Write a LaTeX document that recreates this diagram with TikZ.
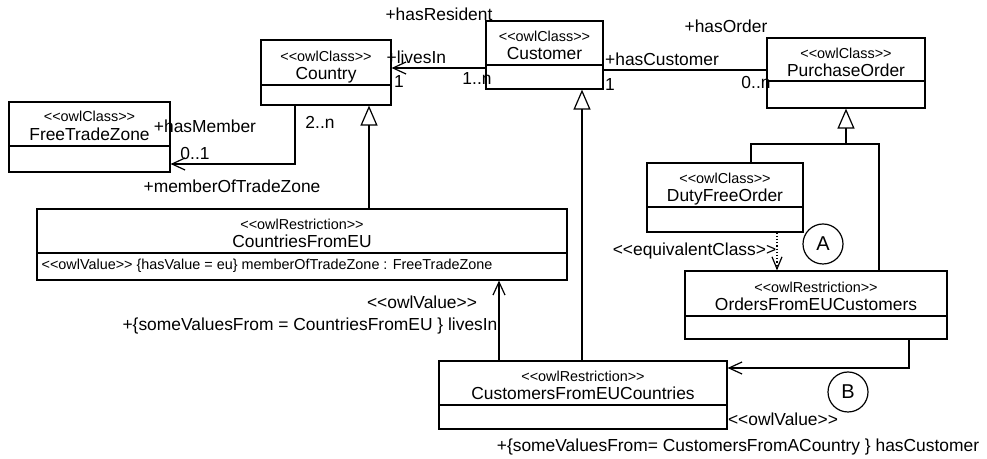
\documentclass[tikz,border=0pt]{standalone}
\usepackage{fontspec}
\setmainfont{Liberation Sans}
\usetikzlibrary{arrows.meta}

\newcommand\uml[1]{<\kern0pt<#1>\kern0pt>}

\begin{document}
\begin{tikzpicture}[x=0.5pt,y=-0.5pt,line width=0.6pt,
    stereo/.style={font=\fontsize{7.2}{8}\selectfont,inner sep=0pt,anchor=base},
    cname/.style={font=\fontsize{8.7}{10}\selectfont,inner sep=0pt,anchor=base},
    lbl/.style={font=\fontsize{8.7}{10}\selectfont,inner sep=0pt},
    assoc/.style={-{Straight Barb[length=6.5pt,width=6pt]}},
    gen/.style={-{Triangle[open,length=10pt,width=8.5pt]}},
    equiv/.style={densely dotted,-{Straight Barb[length=6pt,width=5pt]}}]

      \useasboundingbox (0,0) rectangle (987,459);

      \begin{scope}[every node/.style={draw,inner sep=0pt}]
        \node[minimum width=65pt,minimum height=32.5pt]  (country)  at (326,72.5)  {};
        \node[minimum width=80.5pt,minimum height=35pt]  (ftz)      at (89.5,137)  {};
        \node[minimum width=58.5pt,minimum height=34pt]  (customer) at (544.5,55)  {};
        \node[minimum width=79pt,minimum height=35pt]    (po)       at (846,73)    {};
        \node[minimum width=78pt,minimum height=34.5pt]  (dfo)      at (725,197.5) {};
        \node[minimum width=131pt,minimum height=34pt]   (ofeu)     at (816,305)   {};
        \node[minimum width=144pt,minimum height=34pt]   (cfeuc)    at (583,395)   {};
        \node[minimum width=265pt,minimum height=35.5pt] (ceu)      at (302,244.5) {};
      \end{scope}

      % compartments
      \draw (country.west |- 0,85)   -- (country.east |- 0,85);
      \draw (ftz.west |- 0,146)      -- (ftz.east |- 0,146);
      \draw (customer.west |- 0,65)  -- (customer.east |- 0,65);
      \draw (po.west |- 0,81)        -- (po.east |- 0,81);
      \draw (dfo.west |- 0,207)      -- (dfo.east |- 0,207);
      \draw (ofeu.west |- 0,316)     -- (ofeu.east |- 0,316);
      \draw (cfeuc.west |- 0,405)    -- (cfeuc.east |- 0,405);
      \draw (ceu.west |- 0,253)      -- (ceu.east |- 0,253);

      \node[stereo] (country-s)  at (326,62)   {\uml{owlClass}};
      \node[cname]  (country-n)  at (326,80)   {Country};
      \node[stereo] (ftz-s)      at (89.5,122) {\uml{owlClass}};
      \node[cname]  (ftz-n)      at (89.5,141) {FreeTradeZone};
      \node[stereo] (customer-s) at (544.5,42) {\uml{owlClass}};
      \node[cname]  (customer-n) at (544.5,60) {Customer};
      \node[stereo] (po-s)       at (846,59)   {\uml{owlClass}};
      \node[cname]  (po-n)       at (846,77)   {PurchaseOrder};
      \node[stereo] (dfo-s)      at (725,184)  {\uml{owlClass}};
      \node[cname]  (dfo-n)      at (725,202)  {DutyFreeOrder};
      \node[stereo] (ofeu-s)     at (816,293)  {\uml{owlRestriction}};
      \node[cname]  (ofeu-n)     at (816,311)  {OrdersFromEUCustomers};
      \node[stereo] (cfeuc-s)    at (583,382)  {\uml{owlRestriction}};
      \node[cname]  (cfeuc-n)    at (583,400)  {CustomersFromEUCountries};
      \node[stereo] (ceu-s)      at (302,230)  {\uml{owlRestriction}};
      \node[cname]  (ceu-n)      at (302,248)  {CountriesFromEU};
      \node[stereo,anchor=base west] (ceu-a) at (41,270)
        {\uml{owlValue} \{hasValue = eu\} memberOfTradeZone : FreeTradeZone};

      % connectors
      \coordinate (po-join) at (846,144);
      \draw[assoc] (customer.west |- 0,68) -- (country.east |- 0,68);
      \draw (customer.east |- 0,70) -- (po.west |- 0,70);
      \draw[assoc] (country.south -| 295,0) |- (ftz.east |- 0,164);
      \draw[gen] (ceu.north -| 369,0) -- (country.south -| 369,0);
      \draw[gen] (cfeuc.north -| 582,0) -- (customer.south -| 582,0);
      \draw[gen] (po-join) -- (po.south);
      \draw (dfo.north -| 751,0) |- (po-join) -| (ofeu.north -| 879,0);
      \draw[equiv] (dfo.south -| 777,0) -- (ofeu.north -| 777,0);
      \draw[assoc] (cfeuc.north -| 499,0) -- (ceu.south -| 499,0);
      \draw[assoc] (ofeu.south -| 909,0) |- (cfeuc.east |- 0,368);

      % roles and multiplicities
      \node[lbl] (hasResident) at (439,14)  {+hasResident};
      \node[lbl,anchor=west] (livesIn) at (386,57) {+livesIn};
      \node[lbl] (m-country)   at (399,82)  {1};
      \node[lbl] (m-resident)  at (477,79)  {1..n};
      \node[lbl] (m-member)    at (320,122) {2..n};
      \node[lbl] (hasMember)   at (205,126) {+hasMember};
      \node[lbl] (m-zone)      at (195,154) {0..1};
      \node[lbl] (memberOf)    at (232,186) {+memberOfTradeZone};
      \node[lbl] (hasCustomer) at (662,59)  {+hasCustomer};
      \node[lbl] (m-customer)  at (610,85)  {1};
      \node[lbl] (hasOrder)    at (726,26)  {+hasOrder};
      \node[lbl] (m-order)     at (756,83)  {0..n};
      \node[lbl] (equivClass)  at (694.5,251) {\uml{equivalentClass}};
      \node[lbl] (val-livesIn) at (422,302) {\uml{owlValue}};
      \node[lbl] (svf-livesIn) at (310,326) {+\{someValuesFrom = CountriesFromEU \} livesIn};
      \node[lbl] (val-hasCust) at (783,419) {\uml{owlValue}};
      \node[lbl] (svf-hasCust) at (738,447) {+\{someValuesFrom= CustomersFromACountry \} hasCustomer};

      \node[draw,circle,minimum size=20pt,inner sep=0pt,font=\fontsize{10}{12}\selectfont] (markA) at (823,244) {A};
      \node[draw,circle,minimum size=20pt,inner sep=0pt,font=\fontsize{10}{12}\selectfont] (markB) at (848,392) {B};

    \end{tikzpicture}
\end{document}
